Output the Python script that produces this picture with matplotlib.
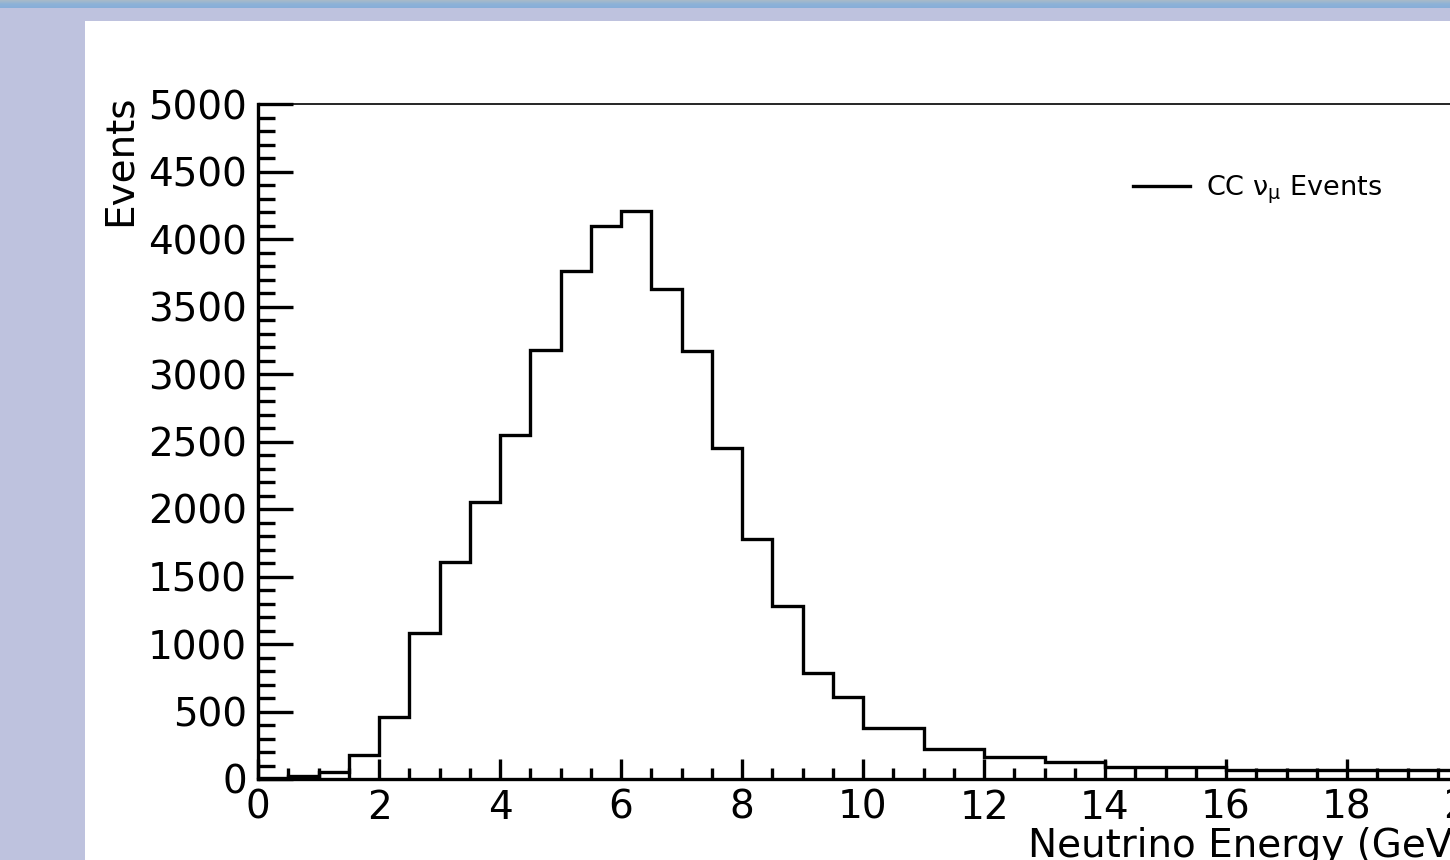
import numpy as np
import matplotlib.pyplot as plt
from matplotlib.patches import Rectangle
from matplotlib.colors import LinearSegmentedColormap
from matplotlib.ticker import MultipleLocator

# bin edges (GeV): 0.5 GeV bins up to 10, then wider bins
edges = [0, 0.5, 1, 1.5, 2, 2.5, 3, 3.5, 4, 4.5, 5, 5.5, 6, 6.5, 7, 7.5,
         8, 8.5, 9, 9.5, 10, 11, 12, 13, 14, 16, 18, 20]
counts = [5, 25, 55, 180, 460, 1080, 1605, 2050, 2550, 3180, 3760, 4100,
          4210, 3630, 3170, 2455, 1780, 1285, 785, 610, 375, 220, 160, 125,
          90, 65, 63]

x_label = "Neutrino Energy (GeV)"
y_label = "Events"
series_label = r"CC $\mathregular{\nu_{\mu}}$ Events"

W, H = 1450, 860
fig = plt.figure(figsize=(W / 100, H / 100), dpi=100)
fig.patch.set_facecolor("#bec2de")

# white slide panel
fig.add_artist(Rectangle((85 / W, 0), 1, 1 - 21 / H, transform=fig.transFigure,
                         facecolor="white", edgecolor="none", zorder=-2))

# blue bar on top of the slide
bar = fig.add_axes([0, 1 - 8 / H, 1, 8 / H])
cmap = LinearSegmentedColormap.from_list("bar", ["#a9bac8", "#8db2d8", "#88aed8"])
bar.imshow(np.linspace(0, 1, 20).reshape(-1, 1), aspect="auto", cmap=cmap)
bar.axis("off")

ax = fig.add_axes([258 / W, 81 / H, 1210 / W, 675 / H])
ax.set_facecolor("none")

ax.stairs(counts, edges, color="black", lw=2.4, label=series_label)

ax.set_xlim(0, 20)
ax.set_ylim(0, 5000)
ax.xaxis.set_major_locator(MultipleLocator(2))
ax.xaxis.set_minor_locator(MultipleLocator(0.5))
ax.yaxis.set_major_locator(MultipleLocator(500))
ax.yaxis.set_minor_locator(MultipleLocator(100))

ax.tick_params(axis="y", which="major", direction="in", length=25, width=2.4,
               labelsize=28, pad=8)
ax.tick_params(axis="y", which="minor", direction="in", length=12, width=2.4)
ax.tick_params(axis="x", which="major", direction="in", length=14.5, width=2.4,
               labelsize=28, pad=7)
ax.tick_params(axis="x", which="minor", direction="in", length=8, width=2.4)

ax.spines["left"].set_linewidth(2.4)
ax.spines["bottom"].set_linewidth(2.4)
ax.spines["top"].set_linewidth(1.2)
ax.spines["right"].set_visible(False)

ax.set_xlabel(x_label, fontsize=28, loc="right")
ax.xaxis.set_label_coords(1.0, -0.071)
ax.set_ylabel(y_label, fontsize=28, loc="top")
ax.yaxis.set_label_coords(-0.099, 1.0135)

ax.legend(loc="center left", bbox_to_anchor=(0.723, 0.873), frameon=False,
          fontsize=19.5, handlelength=2.1, handletextpad=0.6,
          borderpad=0, borderaxespad=0)

fig.savefig("out.png", dpi=100)
